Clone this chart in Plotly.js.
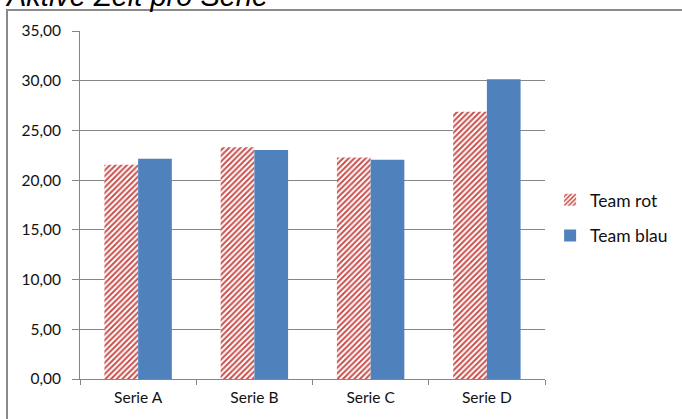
<!DOCTYPE html>
<html>
<head>
<meta charset="utf-8">
<script src="https://cdn.plot.ly/plotly-3.0.1.min.js"></script>
<style>
  html, body { margin: 0; padding: 0; background: #fff; }
  #chart { width: 682px; height: 419px; }
</style>
</head>
<body>
<div id="chart"></div>
<script>
// Average active time per series, two teams
const categories = ["Serie A", "Serie B", "Serie C", "Serie D"];
const teamRot = [21.54, 23.32, 22.28, 26.87];
const teamBlau = [22.15, 23.02, 22.04, 30.15];
const yTicks = [0, 5, 10, 15, 20, 25, 30, 35];
const chartTitle = "Aktive Zeit pro Serie";

const gridColor = "#868686";
const textFont = { family: "Lato, 'Open Sans', sans-serif", size: 15.5, color: "#111111" };
const legendFont = { family: "Lato, 'Open Sans', sans-serif", size: 17.5, color: "#111111" };

const traces = [
  {
    type: "bar",
    name: "Team rot",
    x: categories,
    y: teamRot,
    legendgroup: "rot",
    marker: {
      color: "#c9504c",
      line: { width: 0 },
      pattern: { shape: "/", bgcolor: "#ffffff", size: 4, solidity: 0.5 }
    },
    hoverinfo: "skip"
  },
  {
    type: "bar",
    name: "Team blau",
    x: categories,
    y: teamBlau,
    legendgroup: "blau",
    marker: { color: "#4f81bd", line: { width: 0 } },
    hoverinfo: "skip"
  }
];

const layout = {
  width: 682,
  height: 419,
  margin: { l: 80, r: 137, t: 31, b: 40, pad: 0, autoexpand: false },
  paper_bgcolor: "#ffffff",
  plot_bgcolor: "#ffffff",
  separators: ", ",
  barmode: "group",
  bargap: 0.42,
  bargroupgap: 0,
  xaxis: {
    type: "category",
    showgrid: false,
    showline: true,
    linecolor: gridColor,
    linewidth: 1,
    ticks: "outside",
    tickson: "boundaries",
    ticklen: 5,
    tickcolor: gridColor,
    tickfont: textFont,
    ticklabelstandoff: 4,
    fixedrange: true
  },
  yaxis: {
    range: [0, 35],
    tickvals: yTicks,
    tickformat: ".2f",
    showgrid: true,
    gridcolor: gridColor,
    gridwidth: 1,
    zeroline: false,
    showline: true,
    linecolor: gridColor,
    linewidth: 1,
    ticks: "outside",
    ticklen: 7,
    tickcolor: gridColor,
    tickfont: textFont,
    ticklabelstandoff: 8,
    fixedrange: true
  },
  legend: {
    x: 1.011,
    xanchor: "left",
    y: 0.463,
    yanchor: "middle",
    font: legendFont,
    tracegroupgap: 10,
    itemwidth: 30,
    bgcolor: "rgba(0,0,0,0)"
  },
  annotations: [
    {
      // chart title, sitting across the top edge of the frame
      text: chartTitle,
      xref: "paper",
      yref: "paper",
      x: -0.165,
      xanchor: "left",
      y: 1.1004,
      yanchor: "middle",
      showarrow: false,
      font: { family: "'Liberation Sans', Arial, sans-serif", size: 29, style: "italic", color: "#000000" }
    }
  ],
  shapes: [
    {
      // outer chart frame
      type: "rect",
      xref: "paper",
      yref: "paper",
      x0: -0.157,
      x1: 1.4,
      y0: -0.2,
      y1: 1.0605,
      line: { color: "#8a8a8a", width: 2 },
      fillcolor: "rgba(0,0,0,0)",
      layer: "below"
    }
  ],
  showlegend: true
};

Plotly.newPlot("chart", traces, layout, { displayModeBar: false, staticPlot: true });
</script>
</body>
</html>
